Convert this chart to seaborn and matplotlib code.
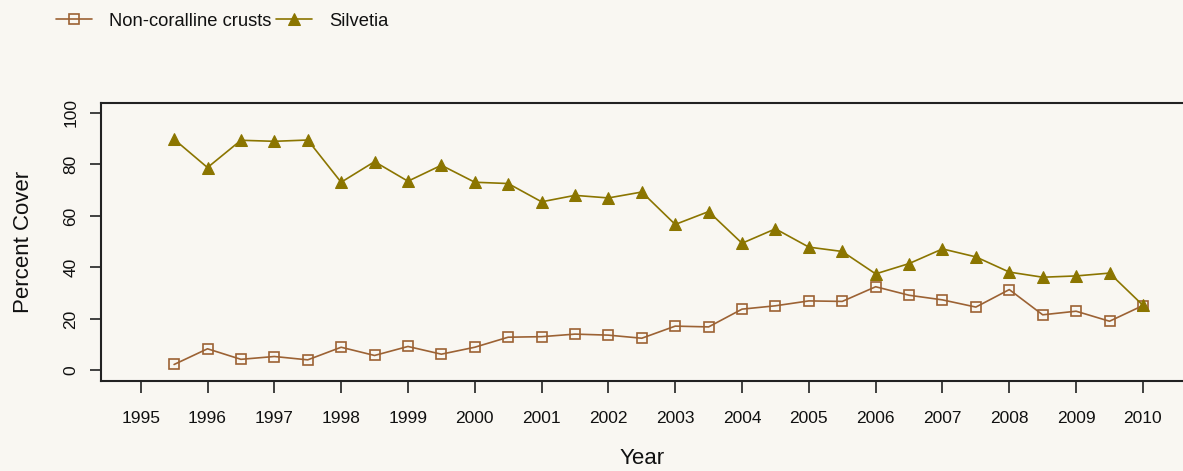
import matplotlib
matplotlib.use("Agg")
import matplotlib.pyplot as plt
import seaborn as sns
import numpy as np
import pandas as pd

# ---- data ----
years = [1995.5, 1996, 1996.5, 1997, 1997.5, 1998, 1998.5, 1999, 1999.5,
         2000, 2000.5, 2001, 2001.5, 2002, 2002.5, 2003, 2003.5, 2004,
         2004.5, 2005, 2005.5, 2006, 2006.5, 2007, 2007.5, 2008, 2008.5,
         2009, 2009.5, 2010]
crusts = [2.3, 8.4, 4.3, 5.4, 4.1, 9.0, 5.8, 9.3, 6.3,
          9.0, 12.9, 13.1, 14.1, 13.7, 12.5, 17.2, 16.9, 23.8,
          25.1, 27.0, 26.8, 32.5, 29.2, 27.4, 24.6, 31.4, 21.6,
          23.0, 19.1, 25.2]
silvetia = [89.8, 78.8, 89.4, 89.0, 89.5, 73.1, 81.1, 73.5, 79.7,
            73.1, 72.6, 65.5, 68.0, 67.0, 69.3, 56.7, 61.7, 49.4,
            55.0, 47.9, 46.2, 37.5, 41.5, 47.2, 44.1, 38.2, 36.2,
            36.7, 37.8, 25.3]
series_names = ["Non-coralline crusts", "Silvetia"]
x_ticks = list(range(1995, 2011))
y_ticks = [0, 20, 40, 60, 80, 100]

BG = "#F9F7F2"
C_CRUST = "#9C6234"
C_SILV = "#8B7500"

sns.set_style("white")
plt.rcParams["font.family"] = ["Liberation Sans", "DejaVu Sans"]

fig = plt.figure(figsize=(11.83, 4.71), dpi=100, facecolor=BG)
ax = fig.add_axes([100.6 / 1183, 1 - 380.7 / 471, 1 - 100.6 / 1183, (380.7 - 102.7) / 471])
ax.set_facecolor(BG)

df = pd.DataFrame({"year": years, "crusts": crusts, "silvetia": silvetia})
sns.lineplot(data=df, x="year", y="crusts", ax=ax, color=C_CRUST, lw=1.2,
             marker="s", markersize=7.5, markerfacecolor="none",
             markeredgecolor=C_CRUST, markeredgewidth=1.2,
             label=series_names[0])
sns.lineplot(data=df, x="year", y="silvetia", ax=ax, color=C_SILV, lw=1.2,
             marker="^", markersize=8, markerfacecolor=C_SILV,
             markeredgecolor=C_SILV, label=series_names[1])

ax.set_xlim(1994.4, 2010.6)
ax.set_ylim(-4, 104)
ax.set_xticks(x_ticks)
ax.set_xticklabels([str(v) for v in x_ticks], fontsize=12.5)
ax.set_yticks(y_ticks)
ax.set_yticklabels([str(v) for v in y_ticks], fontsize=12.5, rotation=90, va="center")
ax.tick_params(axis="x", bottom=True, length=8.5, width=1.2, color="#222222", pad=13.5, labelcolor="#111111")
ax.tick_params(axis="y", left=True, length=8, width=1.2, color="#222222", pad=8, labelcolor="#111111")
ax.set_xlabel("")
ax.set_ylabel("")

for s in ["left", "top", "bottom"]:
    ax.spines[s].set_color("#222222")
    ax.spines[s].set_linewidth(1.5)
ax.spines["right"].set_visible(False)

fig.text(24 / 1183, 0.5 * (1 - 380.7 / 471 + 1 - 102.7 / 471), "Percent Cover",
         rotation=90, ha="center", va="center", fontsize=16, color="#111111")
fig.text(642 / 1183, 1.5 / 471, "Year", ha="center", va="bottom",
         fontsize=16, color="#111111")

leg = ax.legend(loc="center left", bbox_to_anchor=(56 / 1183, 1 - 21 / 471),
                bbox_transform=fig.transFigure, ncol=2, frameon=False,
                fontsize=13.2, handlelength=1.95, handletextpad=0.95,
                columnspacing=0.25, borderpad=0, borderaxespad=0)
for t in leg.get_texts():
    t.set_color("#111111")

fig.savefig("out.png", dpi=100, facecolor=BG)
